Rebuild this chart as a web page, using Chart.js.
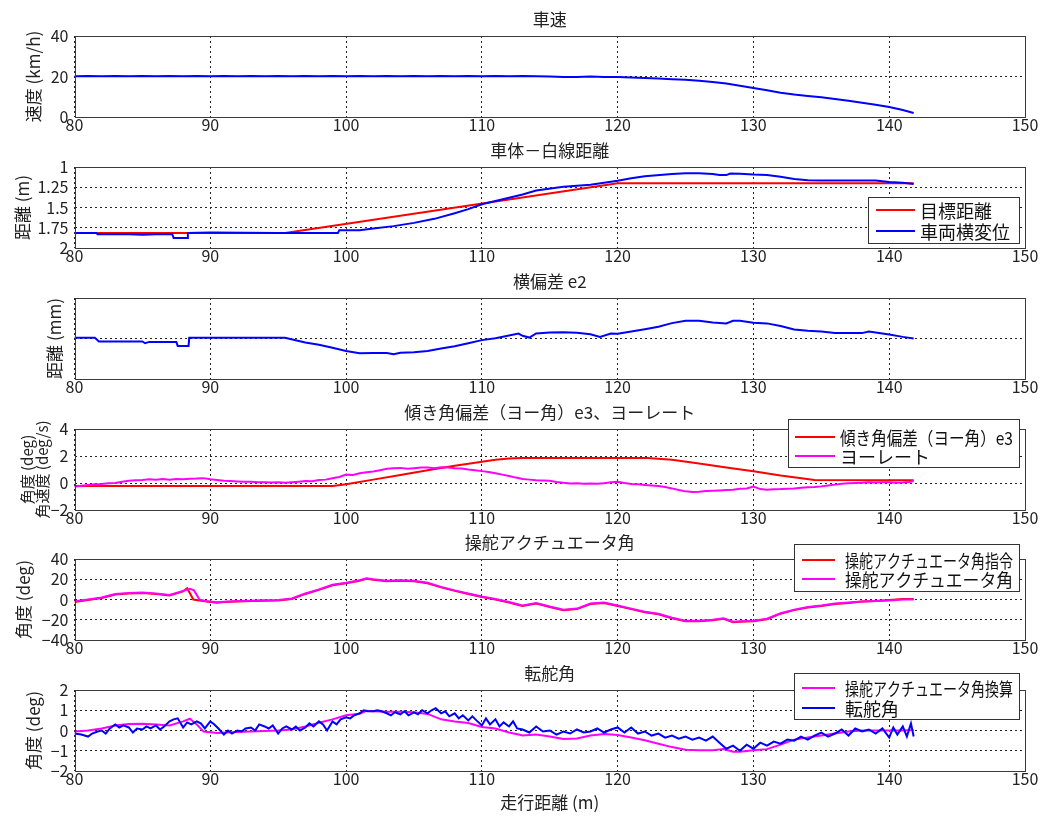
<!DOCTYPE html>
<html><head><meta charset="utf-8">
<script src="https://cdn.jsdelivr.net/npm/chart.js@4.4.0/dist/chart.umd.min.js"></script>
<style>
html,body{margin:0;padding:0;background:#fff;}
#wrap{position:relative;width:1043px;height:819px;overflow:hidden;background:#fff;}
#wrap canvas{position:absolute;left:0;}
</style></head><body><div id="wrap"></div>
<script>
// ---------------- data (x = 走行距離 m, y = value) ----------------
const xTickValues = [80,90,100,110,120,130,140,150];
const speedTicks = [0,20,40];
const distTicks = [1,1.25,1.5,1.75,2];
const e2Ticks = [-300,0,300];
const angleTicks = [-2,0,2,4];
const actTicks = [-40,-20,0,20,40];
const wheelTicks = [-2,-1,0,1,2];

const speed = [[80,20.1],[81,20.3],[82,20.1],[83,20.3],[84,20.1],[85,20.3],[86,20.1],[87,20.3],[88,20.1],[89,20.3],[90,20.1],[91,20.3],[92,20.1],[93,20.3],[94,20.1],[95,20.3],[96,20.1],[97,20.3],[98,20.1],[99,20.3],[100,20.1],[101,20.3],[102,20.1],[103,20.3],[104,20.1],[105,20.3],[106,20.1],[107,20.3],[108,20.1],[109,20.3],[110,20.1],[111,20.2],[112,20.1],[113,20.2],[114,20.1],[115,20.0],[116,19.7],[117,19.7],[118,20.0],[119,19.8],[120,19.7],[121,19.5],[122,19.3],[123,19.0],[124,18.7],[125,18.4],[126,17.9],[127,17.3],[128,16.5],[129,15.4],[130,14.3],[131,13.2],[132,12.0],[133,11.1],[134,10.4],[135,9.7],[136,8.9],[137,8.0],[138,7.0],[139,6.0],[140,4.9],[141,3.5],[141.8,2.0]];

const targetDist = [[80,1.815],[95.5,1.815],[120,1.2],[141.8,1.2]];
const lateralPos = [[80,1.815],[81.6,1.815],[81.7,1.83],[84,1.83],[85,1.835],[86,1.83],[87.2,1.83],[87.3,1.875],[88.3,1.875],[88.35,1.815],[90,1.81],[95,1.815],[99.4,1.815],[99.5,1.78],[101,1.78],[102,1.76],[103.5,1.73],[105,1.69],[106.5,1.64],[108,1.57],[109,1.52],[110,1.46],[111,1.42],[112,1.38],[113,1.34],[114,1.29],[116,1.245],[118,1.22],[120,1.17],[121,1.14],[122,1.115],[124,1.086],[125,1.078],[126,1.078],[127,1.086],[127.5,1.1],[128,1.1],[128.3,1.08],[129,1.082],[130,1.094],[131,1.1],[132,1.12],[133,1.148],[134,1.164],[135,1.168],[139,1.168],[140,1.185],[141,1.195],[141.8,1.21]];

const e2 = [[80,5],[81.5,5],[81.8,-22],[85,-22],[85.2,-35],[85.5,-25],[87.5,-25],[87.6,-55],[88.4,-55],[88.45,5],[95.5,5],[97,-30],[98,-47],[99,-69],[100,-92],[101,-109],[102,-107],[103,-107],[103.5,-117],[104,-106],[105,-102],[106,-92],[107,-74],[108,-57],[109,-35],[110,-12],[111,2],[112,22],[112.7,37],[113,20],[113.5,7],[114,37],[115,45],[116,47],[117,42],[118,32],[118.7,12],[119.5,37],[120,35],[121,52],[122,69],[123,87],[124,114],[125,131],[126,131],[127,119],[128,112],[128.5,131],[129,131],[130,117],[131,112],[132,92],[133,67],[134,57],[135,52],[136,40],[137,40],[138,40],[138.5,52],[139,45],[140,30],[141,12],[141.8,0]];

const e3 = [[80,-0.22],[99,-0.22],[100,-0.1],[102,0.25],[104,0.6],[106,0.95],[108,1.27],[110,1.57],[111,1.72],[112,1.82],[113,1.85],[122.2,1.85],[124,1.72],[126,1.45],[128,1.15],[130,0.87],[132,0.55],[134.5,0.22],[141.8,0.2]];
const yawRate = [[80,-0.27],[80.5,-0.2],[81,-0.15],[81.5,-0.1],[82,-0.08],[82.5,-0.02],[83,0.0],[83.5,0.1],[84,0.17],[84.5,0.2],[85,0.22],[85.5,0.27],[86,0.25],[86.5,0.29],[87,0.25],[87.5,0.3],[88,0.28],[88.5,0.32],[89,0.33],[89.5,0.36],[90,0.27],[90.5,0.22],[91,0.17],[91.5,0.15],[92,0.12],[92.5,0.1],[93,0.1],[93.5,0.06],[94,0.06],[94.5,0.04],[95,0.05],[95.5,0.02],[96,0.06],[96.5,0.1],[97,0.15],[97.5,0.13],[98,0.22],[98.5,0.25],[99,0.35],[99.5,0.45],[100,0.62],[100.5,0.6],[101,0.72],[101.5,0.8],[102,0.85],[102.5,0.95],[103,1.05],[103.5,1.1],[104,1.12],[104.5,1.06],[105,1.1],[105.5,1.14],[106,1.15],[106.5,1.1],[107,1.17],[107.5,1.15],[108,1.1],[108.5,1.08],[109,1.0],[109.5,0.95],[110,0.88],[110.5,0.82],[111,0.72],[111.5,0.62],[112,0.52],[112.5,0.4],[113,0.3],[113.5,0.25],[114,0.2],[114.5,0.18],[115,0.17],[115.5,0.08],[116,0.02],[116.5,-0.04],[117,-0.02],[117.5,-0.05],[118,-0.03],[118.5,-0.06],[119,-0.01],[119.5,0.05],[120,0.1],[120.5,0.0],[121,-0.08],[121.5,-0.1],[122,-0.15],[122.5,-0.18],[123,-0.22],[123.5,-0.3],[124,-0.4],[124.5,-0.52],[125,-0.62],[125.5,-0.66],[126,-0.65],[126.5,-0.6],[127,-0.57],[127.5,-0.55],[128,-0.52],[128.5,-0.5],[129,-0.42],[129.5,-0.4],[130,-0.27],[130.5,-0.45],[131,-0.5],[131.5,-0.46],[132,-0.45],[132.5,-0.42],[133,-0.4],[133.5,-0.36],[134,-0.32],[134.5,-0.3],[135,-0.25],[135.5,-0.18],[136,-0.12],[136.5,-0.06],[137,-0.02],[137.5,0.0],[138,0.02],[138.5,0.05],[139,0.03],[139.5,0.06],[140,0.05],[140.5,0.02],[141,0.03],[141.5,0.08],[141.8,0.17]];

const steerCmd = [[80,-2.5],[81,-0.5],[82,1.5],[83,5],[84,6],[85,6.5],[86,5.5],[87,4],[88,8],[88.3,11],[88.75,0],[89.2,-1],[90,-2.5],[90.5,-3.2],[91,-2.5],[92,-2],[93,-1.5],[94,-1.2],[95,-1],[96,0.5],[97,5.5],[98,9.5],[99,14],[100,16],[101,18.5],[101.5,20.5],[102,19.5],[103,18],[104,18.5],[105,18],[106,16],[107,12],[108,8.5],[109,5.5],[110,2.5],[111,0],[112,-3],[112.7,-5.5],[113,-6.5],[114,-4],[115,-7.5],[116,-10.5],[117,-9.5],[118,-4.5],[119,-3.5],[120,-6.5],[121,-9.5],[122,-12.5],[123,-14.5],[124,-18.5],[125,-21.5],[126,-21.5],[127,-20.5],[127.8,-19],[128.5,-22.5],[129,-22],[130,-21.5],[131,-19.5],[132,-14],[133,-10.5],[134,-8],[135,-6.5],[136,-4.5],[137,-3.5],[138,-2],[139,-1.5],[140,-0.5],[141,0.5],[141.8,0.5]];
const steerAct = [[80,-1.8],[81,0],[82,2],[83,5.5],[84,6.5],[85,7],[86,6],[87,4.5],[88,8.5],[88.5,10.5],[88.8,9],[89.2,0],[89.6,-1.5],[90,-2],[90.5,-2.8],[91,-2.2],[92,-1.5],[93,-1.2],[94,-0.8],[95,-0.5],[96,1],[97,6],[98,10],[99,14.5],[100,16.5],[101,19],[101.5,21],[102,20],[103,18.5],[104,19],[105,18.5],[106,16.5],[107,12.5],[108,9],[109,6],[110,3],[111,0.5],[112,-2.5],[112.7,-5],[113,-6],[114,-3.5],[115,-7],[116,-10],[117,-9],[118,-4],[119,-3],[120,-6],[121,-9],[122,-12],[123,-14],[124,-18],[125,-21],[126,-21],[127,-20],[127.8,-18.5],[128.5,-22],[129,-21.5],[130,-21],[131,-19],[132,-13.5],[133,-10],[134,-7.5],[135,-6],[136,-4],[137,-3],[138,-2],[139,-1.5],[140,-1],[141,0],[141.8,0]];

const steerConv = [[80,-0.05],[81,0.0],[82,0.1],[83,0.25],[84,0.32],[85,0.33],[86,0.3],[87,0.25],[88,0.45],[88.5,0.58],[89,0.3],[89.5,-0.05],[90.5,-0.12],[92,-0.07],[94,-0.03],[95,0.0],[96,0.05],[97,0.2],[98,0.38],[99,0.55],[100,0.75],[101,0.83],[101.5,0.97],[102,0.95],[103,0.92],[104,0.93],[105,0.9],[106,0.82],[107,0.55],[108,0.45],[109,0.37],[110,0.17],[111,0.1],[112,-0.1],[112.7,-0.2],[113,-0.25],[114,-0.2],[115,-0.3],[116,-0.42],[117,-0.4],[118,-0.25],[119,-0.17],[120,-0.22],[121,-0.35],[122,-0.48],[123,-0.65],[124,-0.82],[125,-0.95],[126,-0.97],[127,-0.98],[127.8,-0.92],[128.5,-1.05],[129,-1.05],[130,-0.98],[131,-0.92],[132,-0.7],[133,-0.45],[134,-0.35],[135,-0.25],[136,-0.15],[137,-0.05],[138,0.0],[139,0.0],[140,0.0],[141,0.0],[141.8,0.02]];
const wheelAngle = [[80,-0.15],[80.5,-0.2],[81,-0.3],[81.3,-0.15],[81.7,-0.05],[82,0.0],[82.3,-0.15],[82.6,0.1],[83,0.3],[83.3,0.15],[83.6,0.25],[84,0.15],[84.3,-0.1],[84.6,0.1],[85,0.05],[85.3,0.2],[85.6,0.1],[86,0.25],[86.3,0.05],[86.6,0.2],[87,0.45],[87.3,0.55],[87.6,0.6],[88,0.15],[88.3,0.4],[88.6,0.3],[89,0.45],[89.3,0.35],[89.6,0.1],[90,0.45],[90.3,0.3],[90.6,0.1],[91,-0.2],[91.3,0.0],[91.6,-0.15],[92,0.0],[92.3,-0.05],[92.6,0.1],[93,0.15],[93.3,0.0],[93.6,0.3],[94,0.2],[94.3,0.1],[94.6,0.25],[95,-0.15],[95.3,0.1],[95.6,0.2],[96,0.05],[96.3,0.2],[96.6,0.0],[97,0.15],[97.3,0.35],[97.6,0.2],[98,0.45],[98.3,0.3],[98.6,0.0],[99,0.45],[99.3,0.3],[99.6,0.55],[100,0.65],[100.3,0.6],[100.6,0.75],[101,0.85],[101.3,1.0],[101.6,0.95],[102,0.95],[102.3,1.0],[102.6,0.95],[103,0.85],[103.3,0.75],[103.6,0.9],[104,0.8],[104.3,0.95],[104.6,0.75],[105,0.9],[105.3,0.8],[105.6,1.0],[106,0.85],[106.3,1.0],[106.6,1.1],[107,0.85],[107.3,0.95],[107.6,0.7],[108,0.85],[108.3,0.6],[108.6,0.75],[109,0.5],[109.3,0.7],[109.6,0.5],[110,0.25],[110.3,0.6],[110.6,0.3],[111,0.55],[111.3,0.2],[111.6,0.4],[112,0.2],[112.3,0.45],[112.6,0.1],[113,0.05],[113.5,-0.1],[114,0.2],[114.5,-0.05],[115,0.0],[115.5,-0.2],[116,-0.05],[116.5,-0.15],[117,0.05],[117.5,-0.1],[118,-0.05],[118.5,0.1],[119,-0.1],[119.5,0.05],[120,0.15],[120.5,-0.1],[121,0.15],[121.5,-0.15],[122,-0.05],[122.5,-0.25],[123,-0.15],[123.5,-0.35],[124,-0.25],[124.5,-0.4],[125,-0.3],[125.5,-0.45],[126,-0.35],[126.5,-0.5],[127,-0.3],[127.5,-0.6],[128,-0.9],[128.5,-0.75],[129,-1.0],[129.5,-0.7],[130,-0.9],[130.5,-0.6],[131,-0.75],[131.5,-0.55],[132,-0.65],[132.5,-0.45],[133,-0.5],[133.5,-0.3],[134,-0.45],[134.5,-0.25],[135,-0.1],[135.5,-0.3],[136,-0.15],[136.5,0.05],[137,-0.25],[137.5,0.1],[138,-0.05],[138.5,0.05],[139,-0.15],[139.5,0.1],[140,-0.35],[140.3,0.15],[140.6,-0.2],[141,0.2],[141.3,-0.3],[141.6,0.35],[141.8,-0.3]];

// ---------------- layout / style ----------------
const FONT = "'Noto Sans CJK JP','Noto Sans',sans-serif";
const TXT = '#222';
const RED = '#ff0000', BLUE = '#0000ff', MAG = '#ff00ff';
const PLOT_LEFT = 74.5, RIGHT_PAD = 18, PLOT_H = 81, TOP_SPACE = 27, BOTTOM_SPACE = 26;

const panels = [
  {plotTop:36, title:'車速', yTitle:'速度 (km/h)', yTitleX:34, min:0, max:40, ticks:speedTicks,
   series:[{label:'車速', data:speed, color:BLUE}]},
  {plotTop:167, title:'車体－白線距離', yTitle:'距離 (m)', yTitleX:23, min:1, max:2, reverse:true, ticks:distTicks,
   series:[{label:'目標距離', data:targetDist, color:RED},{label:'車両横変位', data:lateralPos, color:BLUE}],
   legend:{left:868, top:197, right:1019, bottom:243, lineFrom:876, lineTo:915, textX:920, rows:[210,231]}},
  {plotTop:298, title:'横偏差 e2', yTitle:'距離 (mm)', yTitleX:55, min:-300, max:300, ticks:e2Ticks, hideTickLabels:true,
   series:[{label:'横偏差 e2', data:e2, color:BLUE}]},
  {plotTop:429, title:'傾き角偏差（ヨー角）e3、ヨーレート', yTitle:['角度 (deg)','角速度 (deg/s)'], yTitleX:27, yTitleSize:15, yTitleLH:1.0, min:-2, max:4, ticks:angleTicks,
   series:[{label:'傾き角偏差（ヨー角）e3', data:e3, color:RED},{label:'ヨーレート', data:yawRate, color:MAG}],
   legend:{left:788, top:419, right:1019, bottom:467, lineFrom:795, lineTo:835, textX:840, rows:[437,456]}},
  {plotTop:559, title:'操舵アクチュエータ角', yTitle:'角度 (deg)', yTitleX:24, min:-40, max:40, ticks:actTicks,
   series:[{label:'操舵アクチュエータ角指令', data:steerCmd, color:RED},{label:'操舵アクチュエータ角', data:steerAct, color:MAG}],
   legend:{left:794, top:544, right:1019, bottom:591, lineFrom:802, lineTo:835, textX:845, rows:[560,579]}},
  {plotTop:690, title:'転舵角', yTitle:'角度 (deg)', yTitleX:34, min:-2, max:2, ticks:wheelTicks, xTitle:'走行距離 (m)',
   series:[{label:'操舵アクチュエータ角換算', data:steerConv, color:MAG},{label:'転舵角', data:wheelAngle, color:BLUE}],
   legend:{left:794, top:673, right:1019, bottom:719, lineFrom:802, lineTo:835, textX:845, rows:[688,708]}}
];

const fmt = v => String(v).replace('-', '\u2212');

const frameLegend = {
  id:'frameLegend',
  afterDraw(chart, args, opts){
    const ctx = chart.ctx, a = chart.chartArea;
    ctx.save();
    ctx.strokeStyle = '#3a3a3a'; ctx.lineWidth = 1; ctx.setLineDash([]);
    const L = Math.round(a.left), T = Math.round(a.top), R = Math.round(a.right), B = Math.round(a.bottom);
    ctx.strokeRect(L + 0.5, T + 0.5, R - L, B - T);
    const lg = opts.box;
    if (lg) {
      const oy = opts.canvasTop;
      const top = lg.top - oy;
      ctx.fillStyle = '#fff';
      ctx.fillRect(lg.left, top, lg.right - lg.left, lg.bottom - lg.top);
      ctx.strokeStyle = '#333';
      ctx.strokeRect(lg.left + 0.5, top + 0.5, lg.right - lg.left, lg.bottom - lg.top);
      ctx.font = '18px ' + FONT; ctx.textBaseline = 'middle'; ctx.textAlign = 'left';
      chart.data.datasets.forEach((ds, i) => {
        const y = lg.rows[i] - oy;
        ctx.strokeStyle = ds.borderColor; ctx.lineWidth = 2;
        ctx.beginPath(); ctx.moveTo(lg.lineFrom, y); ctx.lineTo(lg.lineTo, y); ctx.stroke();
        ctx.fillStyle = '#111';
        ctx.fillText(ds.label, lg.textX, y + 1, lg.right - 6 - lg.textX);
      });
    }
    ctx.restore();
  }
};

const wrap = document.getElementById('wrap');
panels.forEach((p, idx) => {
  const isLast = idx === panels.length - 1;
  const bottomSpace = isLast ? 48 : BOTTOM_SPACE;
  const H = TOP_SPACE + PLOT_H + bottomSpace;
  const canvasTop = p.plotTop - TOP_SPACE;
  const cv = document.createElement('canvas');
  cv.width = 1043; cv.height = H;
  cv.style.top = canvasTop + 'px'; cv.style.width = '1043px'; cv.style.height = H + 'px';
  wrap.appendChild(cv);
  const yts = p.yTitleSize || 17;
  const ylh = p.yTitleLH || 1.2;
  const yPadTop = p.yTitleX - (yts * ylh) / 2;
  new Chart(cv, {
    type:'line',
    data:{ datasets: p.series.map((s, i) => ({
      label:s.label, data:s.data.map(d => ({x:d[0], y:d[1]})),
      borderColor:s.color, backgroundColor:s.color, borderWidth:2,
      pointRadius:0, tension:0, fill:false, order:-i
    }))},
    options:{
      responsive:false, animation:false, devicePixelRatio:1,
      layout:{padding:{left:0, right:RIGHT_PAD, top:0, bottom:0}},
      plugins:{
        legend:{display:false}, tooltip:{enabled:false},
        title:{display:true, text:p.title, fullSize:false, color:TXT,
               font:{family:FONT, size:17, weight:'normal', lineHeight:1.2},
               padding:{top:0, bottom:TOP_SPACE - 20.4}},
        frameLegend:{box:p.legend || null, canvasTop:canvasTop}
      },
      scales:{
        x:{type:'linear', min:80, max:150,
           afterBuildTicks:s => { s.ticks = xTickValues.map(v => ({value:v})); },
           afterFit:s => { s.height = bottomSpace; },
           ticks:{color:TXT, font:{family:FONT, size:16}, padding:-2, maxRotation:0, autoSkip:false, callback:v => fmt(v)},
           grid:{color:'#222', lineWidth:1, drawTicks:false},
           border:{display:false, dash:[2,3]},
           title:{display:!!p.xTitle, text:p.xTitle || '', color:TXT, font:{family:FONT, size:17}, padding:{top:0, bottom:6}}
        },
        y:{type:'linear', min:p.min, max:p.max, reverse:!!p.reverse,
           afterBuildTicks:s => { s.ticks = p.ticks.map(v => ({value:v})); },
           afterFit:s => { s.width = PLOT_LEFT; },
           ticks:{color:TXT, font:{family:FONT, size:16}, padding:6, autoSkip:false,
                  callback:v => p.hideTickLabels ? '' : fmt(v)},
           grid:{color:'#222', lineWidth:1, drawTicks:false},
           border:{display:false, dash:[2,3]},
           title:{display:true, text:p.yTitle, color:TXT,
                  font:{family:FONT, size:yts, lineHeight:ylh},
                  padding:{top:yPadTop, bottom:0}}
        }
      }
    },
    plugins:[frameLegend]
  });
});
</script></body></html>
